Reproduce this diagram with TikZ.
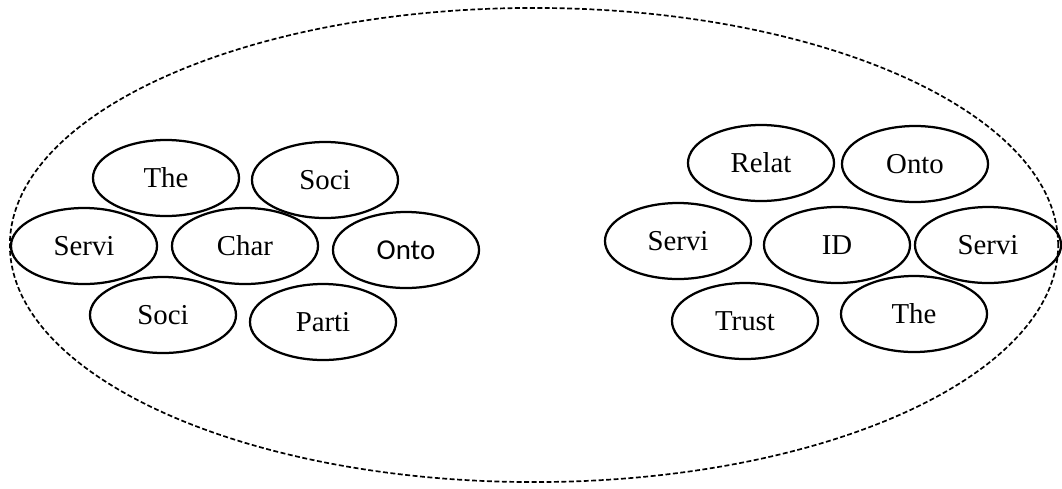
\documentclass[tikz,border=0pt]{standalone}
\usepackage{fontspec}
\setmainfont{Liberation Serif}
\newfontfamily\calfont{Carlito}
\usetikzlibrary{shapes.geometric}

\begin{document}
\begin{tikzpicture}[
  x=0.025cm, y=-0.025cm,
  every node/.style={font=\fontsize{20.5}{24}\selectfont},
  concept/.style={ellipse, draw, line width=1.6pt, inner sep=0pt,
                  minimum width=3.65cm, minimum height=1.9cm},
  scopebox/.style={ellipse, draw, dash pattern=on 3.5pt off 1.8pt,
                   line width=1.2pt, inner sep=0pt,
                   minimum width=26.2cm, minimum height=11.85cm},
]
\useasboundingbox (0,0) rectangle (1062,488);
\node[scopebox] (world) at (534,245) {};
% left cluster
\node[concept] (lthe)   at (166,178) {The};
\node[concept] (lsoci)  at (325,180) {Soci};
\node[concept] (lservi) at (84,246)  {Servi};
\node[concept] (lchar)  at (245,246) {Char};
\node[concept] (lonto)  at (406,250) {\calfont Onto};
\node[concept] (lsocib) at (163,315) {Soci};
\node[concept] (lparti) at (323,322) {Parti};
% right cluster
\node[concept] (rrelat)  at (761,163) {Relat};
\node[concept] (ronto)   at (915,164) {Onto};
\node[concept] (rservi)  at (678,241) {Servi};
\node[concept] (rid)     at (837,245) {ID};
\node[concept] (rservib) at (988,245) {Servi};
\node[concept] (rtrust)  at (745,321) {Trust};
\node[concept] (rthe)    at (914,314) {The};
\end{tikzpicture}
\end{document}
